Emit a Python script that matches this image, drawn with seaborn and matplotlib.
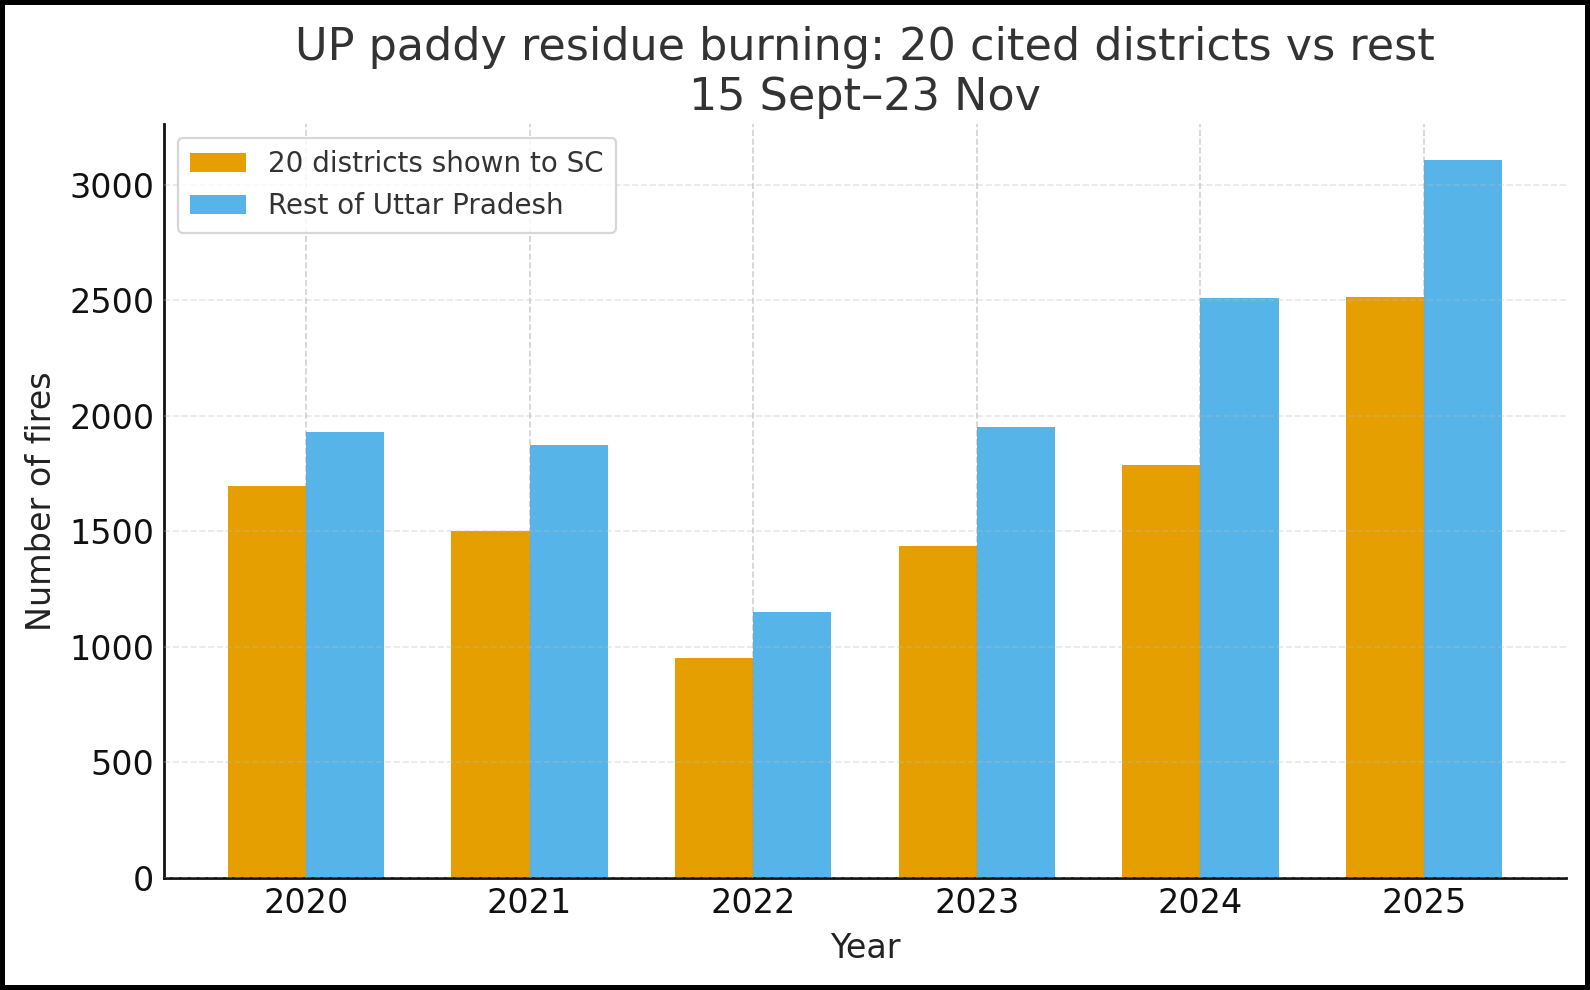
import numpy as np
import pandas as pd
import matplotlib
matplotlib.use("Agg")
import matplotlib.pyplot as plt
import seaborn as sns

# values
years = ["2020", "2021", "2022", "2023", "2024", "2025"]
cited_districts = [1695, 1500, 952, 1436, 1787, 2515]
rest_of_up = [1929, 1874, 1151, 1951, 2512, 3108]
series_names = ["20 districts shown to SC", "Rest of Uttar Pradesh"]
bar_colors = ["#E69F00", "#56B4E9"]

df = pd.DataFrame({
    "Year": years * 2,
    "Fires": cited_districts + rest_of_up,
    "Series": [series_names[0]] * len(years) + [series_names[1]] * len(years),
})

sns.set_style("white")
plt.rcParams["font.family"] = ["DejaVu Sans"]

fig = plt.figure(figsize=(7.95, 4.95), dpi=200)
fig.patch.set_edgecolor("black")
fig.patch.set_linewidth(3.6)
ax = fig.add_axes([0.1031, 0.1134, 0.8818, 0.7613])

sns.barplot(data=df, x="Year", y="Fires", hue="Series", palette=bar_colors,
            width=0.7, gap=0, saturation=1, errorbar=None, linewidth=0,
            ax=ax, zorder=2)

ax.set_xlim(-0.635, len(years) - 1 + 0.635)
ax.set_yticks([0, 500, 1000, 1500, 2000, 2500, 3000])

# dashed grid, drawn over the bars but faint
ax.set_axisbelow(False)
ax.grid(axis="x", linestyle="--", color="#999999", alpha=0.45, linewidth=0.6, zorder=3)
ax.grid(axis="y", linestyle="--", color="#bbbbbb", alpha=0.35, linewidth=0.6, zorder=3)

for s in ["top", "right"]:
    ax.spines[s].set_visible(False)
for s in ["left", "bottom"]:
    ax.spines[s].set_color("#111111")
    ax.spines[s].set_linewidth(1.0)

ax.tick_params(axis="both", direction="in", labelsize=12, colors="#111111",
               length=3.5, width=0.8)
ax.set_xlabel("Year", fontsize=12, color="#222222")
ax.set_ylabel("Number of fires", fontsize=12, color="#222222")
ax.set_title("UP paddy residue burning: 20 cited districts vs rest\n15 Sept\u201323 Nov",
             fontsize=16, color="#333333", pad=5)

leg = ax.legend(loc="upper left", fontsize=10, frameon=True, fancybox=True,
                title=None, borderpad=0.45, handlelength=2.0)
leg.get_frame().set_edgecolor("#cccccc")
leg.get_frame().set_linewidth(0.8)
for t in leg.get_texts():
    t.set_color("#333333")

fig.savefig("out.png", dpi=200, edgecolor=fig.get_edgecolor())
